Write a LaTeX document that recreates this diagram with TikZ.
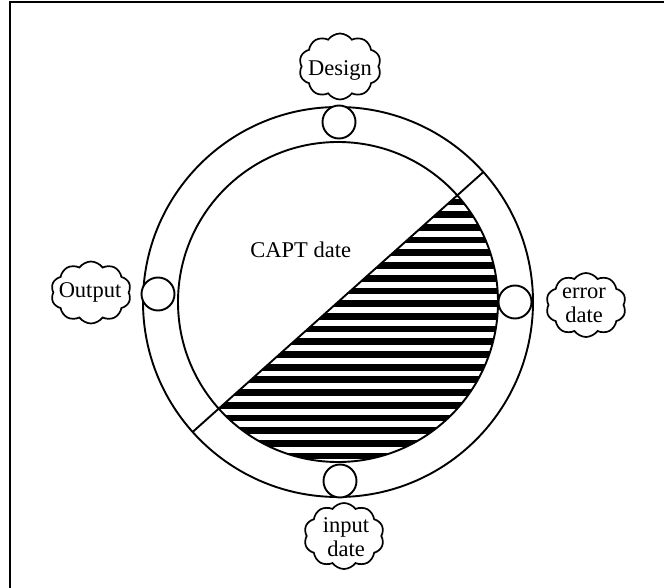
\documentclass[tikz,border=0pt]{standalone}
\usepackage{fontspec}
\setmainfont{Liberation Serif}
\usetikzlibrary{shapes.symbols}
\begin{document}
\begin{tikzpicture}[x=1pt,y=-1pt, line width=1.9pt,
  lbl/.style={font=\fontsize{22.5}{24}\selectfont, align=center, inner sep=0pt},
  puff/.style={cloud, draw, line width=1.7pt, cloud puffs=10, cloud puff arc=110, cloud ignores aspect, inner sep=0pt},
  knob/.style={circle, draw, line width=1.9pt, minimum size=33pt, inner sep=0pt, fill=white}]
\useasboundingbox (0,0) rectangle (664,588);
\coordinate (C) at (338,302);
% frame
\draw (10,588) -- (10,2) -- (664,2);
% hatching
\begin{scope}
  \clip (C) circle (160);
  \clip (628.8,42) -- (47.2,562) -- (700,700) -- cycle;
  \foreach \k in {0,...,21} {
    \fill (150,{202+12.7*\k-3.4}) rectangle (530,{202+12.7*\k+3.4});
  }
\end{scope}
% rings
\draw (C) circle (195);
\draw (C) circle (160);
\coordinate (d1) at (483.4,172);
\coordinate (d2) at (192.6,432);
\draw (d1) -- (d2);
% knobs
\node[knob] (kt) at (339,122) {};
\node[knob] (kl) at (158,294) {};
\node[knob] (kr) at (515,302) {};
\node[knob] (kb) at (340,481) {};
% clouds
\node[puff, minimum width=82pt, minimum height=66pt] (cd) at (340,66.5) {};
\node[lbl] (td) at (340,70) {Design};
\node[puff, minimum width=80pt, minimum height=62pt] (co) at (91,292.5) {};
\node[lbl] (to) at (90,292) {Output};
\node[puff, minimum width=80pt, minimum height=64pt] (ce) at (586,305) {};
\node[lbl] (te) at (584,305) {error\\date};
\node[puff, minimum width=80pt, minimum height=66pt] (ci) at (344,536) {};
\node[lbl] (ti) at (346,537) {input\\date};
% centre label
\node[lbl] (capt) at (300.7,250) {CAPT date};
\end{tikzpicture}
\end{document}
